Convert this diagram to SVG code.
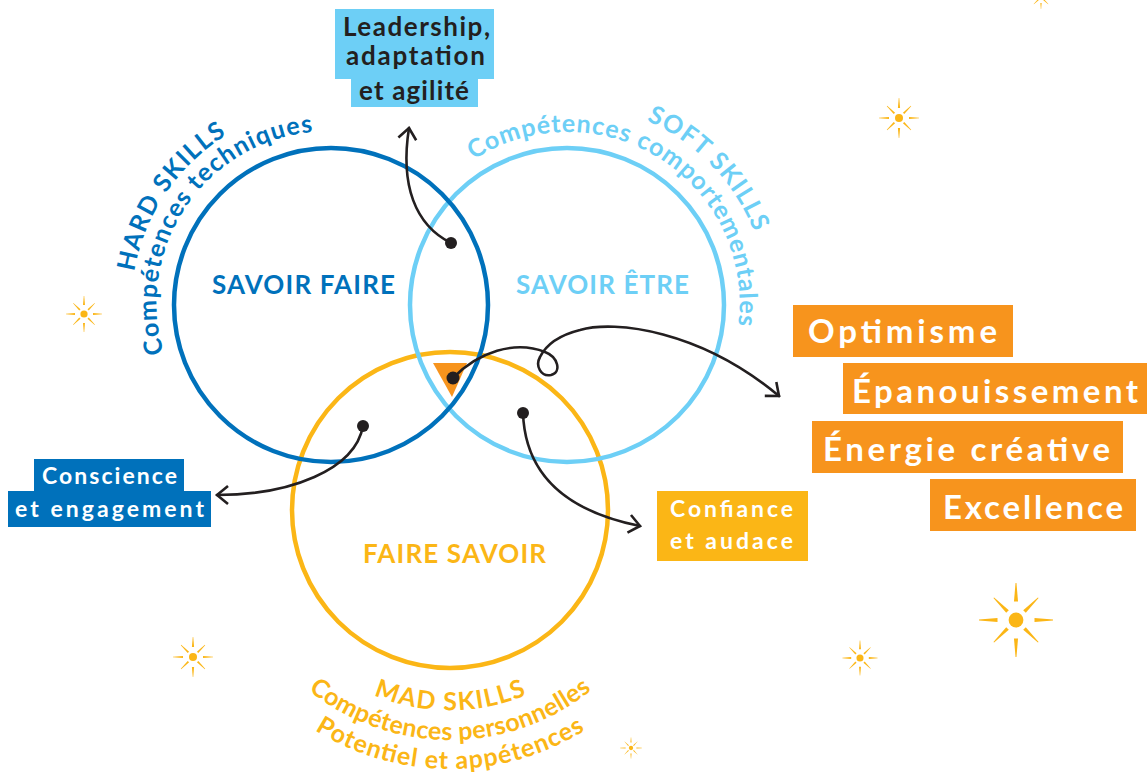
<svg xmlns="http://www.w3.org/2000/svg" width="1147" height="772" viewBox="0 0 1147 772">
<style>
text { font-family: Lato, "Open Sans", "Liberation Sans", sans-serif; font-weight: 700; }
.ring { fill: none; stroke-width: 4.5; }
.conn { fill: none; stroke: #231f20; stroke-width: 2.6; stroke-linecap: round; }
.dot { fill: #231f20; }
.dk { fill: #0071bb; }
.lt { fill: #6dcff6; }
.yl { fill: #fbb616; }
.or { fill: #f7941d; }
.wh { fill: #ffffff; }
.bk { fill: #231f20; }
.center { font-size: 26px; text-anchor: middle; }
.arc { font-size: 25px; }
.box { font-size: 23px; }
.big { font-size: 33px; }
</style>
<defs>
<marker id="chev" viewBox="-14 -11 16 22" markerWidth="16" markerHeight="22" refX="0" refY="0" orient="auto" markerUnits="userSpaceOnUse">
<path d="M-11,-9 L0,0 L-11,9" fill="none" stroke="#231f20" stroke-width="2.6" stroke-linejoin="miter"/>
</marker>
<g id="star" fill="#fbb616">
<circle r="8"/>
<path d="M-2.2,-20 L-0.5,-40 L0.5,-40 L2.2,-20Z"/>
<path d="M-2.2,-20 L-0.5,-40 L0.5,-40 L2.2,-20Z" transform="rotate(90)"/>
<path d="M-2.2,-20 L-0.5,-40 L0.5,-40 L2.2,-20Z" transform="rotate(180)"/>
<path d="M-2.2,-20 L-0.5,-40 L0.5,-40 L2.2,-20Z" transform="rotate(270)"/>
<path d="M-2,-13 L-0.5,-34 L0.5,-34 L2,-13Z" transform="rotate(45)"/>
<path d="M-2,-13 L-0.5,-34 L0.5,-34 L2,-13Z" transform="rotate(135)"/>
<path d="M-2,-13 L-0.5,-34 L0.5,-34 L2,-13Z" transform="rotate(225)"/>
<path d="M-2,-13 L-0.5,-34 L0.5,-34 L2,-13Z" transform="rotate(315)"/>
</g>
<path id="pHardIn" d="M232.3,445.9 A172,172 0 0 1 424.7,160.7"/>
<path id="pHardOut" d="M216.3,468.8 A200,200 0 0 1 440,137.3"/>
<path id="pSoftIn" d="M422.7,211.3 A172,172 0 0 1 714.4,393.6"/>
<path id="pSoftOut" d="M429.2,157.3 A202,202 0 0 1 709.8,447.8"/>
<path id="pMad" d="M253,513.4 A197,197 0 0 0 647,513.4"/>
<path id="pMadIn" d="M224,514 A226,226 0 0 0 676,514"/>
<path id="pMadIn2" d="M195,514 A255,255 0 0 0 705,514"/>
</defs>
<rect width="1147" height="772" fill="#ffffff"/>

<g id="stars">
<use href="#star" transform="translate(899,118) scale(0.5)"/>
<use href="#star" transform="translate(1041,-3) scale(0.3)"/>
<use href="#star" transform="translate(84,314) scale(0.45)"/>
<use href="#star" transform="translate(193,657) scale(0.5)"/>
<use href="#star" transform="translate(1016,620) scale(0.925)"/>
<use href="#star" transform="translate(860,658) scale(0.44)"/>
<use href="#star" transform="translate(631,748) scale(0.27)"/>
</g>

<g id="mad-skills">
<circle class="ring" cx="450" cy="510" r="158" stroke="#fbb616"/>
<text class="center yl" x="454.5" y="563" textLength="183" lengthAdjust="spacing">FAIRE SAVOIR</text>
<text class="arc yl" font-size="27"><textPath href="#pMad" startOffset="50%" text-anchor="middle" textLength="157" lengthAdjust="spacing">MAD SKILLS</textPath></text>
<text class="arc yl"><textPath href="#pMadIn" startOffset="50%" text-anchor="middle" textLength="306" lengthAdjust="spacing">Compétences personnelles</textPath></text>
<text class="arc yl"><textPath href="#pMadIn2" startOffset="50%" text-anchor="middle" textLength="285" lengthAdjust="spacing">Potentiel et appétences</textPath></text>
</g>

<g id="soft-skills">
<circle class="ring" cx="567" cy="305" r="157" stroke="#6dcff6"/>
<text class="center lt" x="602.5" y="294" textLength="173" lengthAdjust="spacing">SAVOIR ÊTRE</text>
<text class="arc lt" font-size="27"><textPath href="#pSoftOut" startOffset="50%" text-anchor="middle" textLength="159" lengthAdjust="spacing">SOFT SKILLS</textPath></text>
<text class="arc lt"><textPath href="#pSoftIn" startOffset="50%" text-anchor="middle" textLength="391" lengthAdjust="spacing">Compétences comportementales</textPath></text>
</g>

<g id="hard-skills">
<circle class="ring" cx="331" cy="305" r="157" stroke="#0071bb"/>
<text class="center dk" x="303.5" y="294" textLength="183" lengthAdjust="spacing">SAVOIR FAIRE</text>
<text class="arc dk" font-size="27"><textPath href="#pHardOut" startOffset="50%" text-anchor="middle" textLength="170" lengthAdjust="spacing">HARD SKILLS</textPath></text>
<text class="arc dk"><textPath href="#pHardIn" startOffset="50%" text-anchor="middle" textLength="305" lengthAdjust="spacing">Compétences techniques</textPath></text>
</g>

<g id="core">
<path d="M433,363 L467,363 L452,397 Z" fill="#f7941d"/>
</g>

<g id="connectors">
<path class="conn" d="M451,243 C415,225 400,185 409,128" marker-end="url(#chev)"/>
<path class="conn" d="M453,378 C478,352 515,340 545,352 C558,357 562,372 551,375 C541,377 535,366 540,357 C546,345 560,335 580,330 C615,320 700,330 779,396" marker-end="url(#chev)"/>
<path class="conn" d="M363,426 C355,470 290,495 217,495" marker-end="url(#chev)"/>
<path class="conn" d="M523,413 C525,470 560,510 640,526" marker-end="url(#chev)"/>
<circle class="dot" cx="451" cy="243" r="6"/>
<circle class="dot" cx="453" cy="378" r="6.5"/>
<circle class="dot" cx="363" cy="426" r="6"/>
<circle class="dot" cx="523" cy="413" r="6"/>
</g>

<g id="label-leadership">
<rect x="335" y="9" width="159" height="70" fill="#6dcff6"/>
<rect x="351" y="79" width="127" height="28" fill="#6dcff6"/>
<text class="bk" font-size="26" x="343" y="36" textLength="147" lengthAdjust="spacing">Leadership,</text>
<text class="bk" font-size="26" x="346" y="65" textLength="139" lengthAdjust="spacing">adaptation</text>
<text class="bk" font-size="26" x="359" y="100" textLength="110" lengthAdjust="spacing">et agilité</text>
</g>

<g id="label-conscience">
<rect x="34" y="459" width="150" height="32" fill="#0071bb"/>
<rect x="8" y="491" width="203" height="36" fill="#0071bb"/>
<text class="box wh" x="42" y="484" textLength="135" lengthAdjust="spacing">Conscience</text>
<text class="box wh" x="15" y="517" textLength="189" lengthAdjust="spacing">et engagement</text>
</g>

<g id="label-confiance">
<rect x="657" y="491" width="151" height="70" fill="#fbb616"/>
<text class="box wh" x="670" y="517" textLength="123" lengthAdjust="spacing">Confiance</text>
<text class="box wh" x="670" y="549" textLength="123" lengthAdjust="spacing">et audace</text>
</g>

<g id="label-optimisme">
<rect x="793" y="305" width="220" height="52" fill="#f7941d"/>
<text class="big wh" x="808" y="343" textLength="189" lengthAdjust="spacing">Optimisme</text>
</g>
<g id="label-epanouissement">
<rect x="843" y="363" width="304" height="51" fill="#f7941d"/>
<text class="big wh" x="852" y="403" textLength="286" lengthAdjust="spacing">Épanouissement</text>
</g>
<g id="label-energie">
<rect x="812" y="421" width="311" height="52" fill="#f7941d"/>
<text class="big wh" x="823" y="461" textLength="287" lengthAdjust="spacing">Énergie créative</text>
</g>
<g id="label-excellence">
<rect x="930" y="479" width="206" height="52" fill="#f7941d"/>
<text class="big wh" x="943" y="519" textLength="180" lengthAdjust="spacing">Excellence</text>
</g>
</svg>
